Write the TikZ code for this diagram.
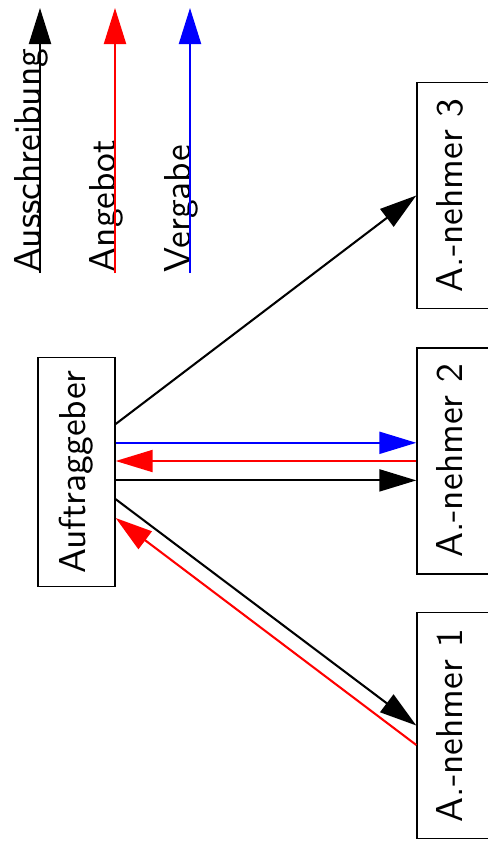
\documentclass[tikz,border=0pt]{standalone}
\usetikzlibrary{arrows.meta,calc}
\begin{document}
\begin{tikzpicture}[x=0.2667pt,y=0.2667pt,
  every node/.style={font=\sffamily\fontsize{10}{12}\selectfont, inner sep=0pt},
  party/.style={draw, line width=0.4pt, rotate=90, minimum width=60.3pt, minimum height=20.5pt},
  flow/.style={line width=0.55pt, -{Triangle[length=9.87pt,width=5.87pt]}},
  legarrow/.style={line width=0.55pt, -{Triangle[length=9.6pt,width=5.87pt]}},
  legtext/.style={rotate=90, anchor=base west},
]
\useasboundingbox (0,0) rectangle (488,-858);

% legend
\coordinate (kb0) at (40,-273);  \coordinate (kb1) at (40,-8);
\coordinate (kr0) at (115,-273); \coordinate (kr1) at (115,-8);
\coordinate (kv0) at (190,-273); \coordinate (kv1) at (190,-8);
\node[legtext] (lb) at (kb0) {Ausschreibung};
\node[legtext] (lr) at (kr0) {Angebot};
\node[legtext] (lv) at (kv0) {Vergabe};
\draw[legarrow] (kb0) -- (kb1);
\draw[legarrow, red] (kr0) -- (kr1);
\draw[legarrow, blue] (kv0) -- (kv1);

% parties
\node[party, minimum width=61.1pt] (AG) at (76.5,-472) {Auftraggeber};
\node[party, text depth=3.47pt] (A3) at (455.5,-195.5) {A.-nehmer 3};
\node[party, text depth=3.47pt] (A2) at (455.5,-461) {A.-nehmer 2};
\node[party, text depth=3.47pt] (A1) at (455.5,-725.5) {A.-nehmer 1};

% flows
\draw[flow] ($(AG.south)+(0,48)$) -- (A3.north);
\draw[flow, blue] ($(AG.south)+(0,29.2)$) -- ($(A2.north)+(0,18.2)$);
\draw[flow, red] (A2.north) -- ($(AG.south)+(0,11)$);
\draw[flow] ($(AG.south)+(0,-8.4)$) -- ($(A2.north)+(0,-19.4)$);
\draw[flow] ($(AG.south)+(0,-27.2)$) -- (A1.north);
\draw[flow, red] ($(A1.north)+(0,-19.5)$) -- ($(AG.south)+(0,-46)$);
\end{tikzpicture}
\end{document}
